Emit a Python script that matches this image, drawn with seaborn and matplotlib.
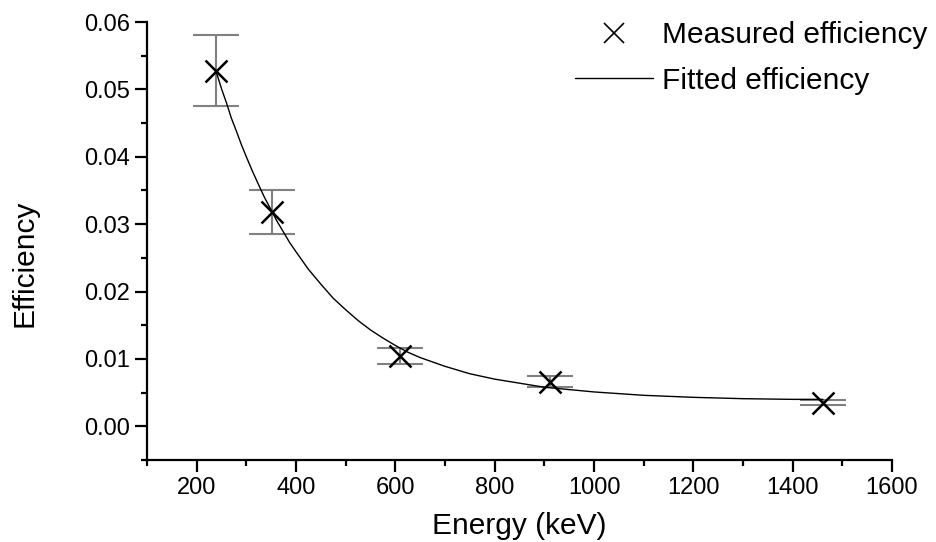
import matplotlib
matplotlib.use("Agg")
import matplotlib.pyplot as plt
from matplotlib.lines import Line2D
import seaborn as sns
import pandas as pd

# Measured efficiency points (energy in keV)
energy = [238.6, 351.9, 609.3, 911.2, 1460.8]
efficiency = [0.0528, 0.0318, 0.0104, 0.0066, 0.0035]
eff_err = [0.0053, 0.0032, 0.0012, 0.0008, 0.0004]

# Fitted efficiency curve
fit_energy = [238.6, 250, 260, 270, 280, 290, 300, 312, 325, 337, 350, 362,
              375, 387, 400, 425, 450, 475, 500, 525, 550, 575, 600, 625,
              650, 700, 750, 800, 900, 1000, 1100, 1200, 1300, 1400, 1460.8]
fit_eff = [0.0528, 0.0501, 0.0480, 0.0457, 0.0438, 0.0418, 0.0400, 0.0379,
           0.0358, 0.0339, 0.0321, 0.0304, 0.0288, 0.0273, 0.0259, 0.0233,
           0.0211, 0.0190, 0.0173, 0.0157, 0.0143, 0.0131, 0.0120, 0.0110,
           0.0102, 0.0089, 0.0078, 0.0070, 0.0058, 0.0051, 0.0046, 0.0043,
           0.0041, 0.0040, 0.0040]

x_ticks = [200, 400, 600, 800, 1000, 1200, 1400, 1600]
y_ticks = [0.00, 0.01, 0.02, 0.03, 0.04, 0.05, 0.06]

sns.set_style("ticks")
plt.rcParams["font.family"] = ["Liberation Sans", "DejaVu Sans"]
plt.rcParams["text.color"] = "black"
plt.rcParams["axes.labelcolor"] = "black"
plt.rcParams["xtick.color"] = "black"
plt.rcParams["ytick.color"] = "black"
plt.rcParams["xtick.labelcolor"] = "black"
plt.rcParams["ytick.labelcolor"] = "black"

meas = pd.DataFrame({"energy": energy, "efficiency": efficiency})
fit = pd.DataFrame({"energy": fit_energy, "efficiency": fit_eff})

fig = plt.figure(figsize=(9.36, 5.42), dpi=100)
ax = fig.add_axes([147/936, 1 - 460/542, 745/936, 438/542])

ax.errorbar(energy, efficiency, yerr=eff_err, fmt="none", ecolor="#808080",
            elinewidth=1.5, capsize=16.5, capthick=1.5, zorder=2)
sns.lineplot(data=fit, x="energy", y="efficiency", ax=ax, color="black",
             linewidth=1.0, zorder=3, legend=False)
sns.scatterplot(data=meas, x="energy", y="efficiency", ax=ax, marker="x",
                s=250, linewidth=1.8, color="black", zorder=4, legend=False)

ax.set_xlim(100, 1600)
ax.set_ylim(-0.005, 0.06)
ax.set_xticks(x_ticks)
ax.set_xticks([100 + 200 * i for i in range(8)], minor=True)
ax.set_yticks(y_ticks)
ax.set_yticks([-0.005 + 0.01 * i for i in range(7)], minor=True)
ax.set_yticklabels([f"{v:.2f}" for v in y_ticks])
ax.set_xticklabels([str(v) for v in x_ticks])

for s in ["top", "right"]:
    ax.spines[s].set_visible(False)
for s in ["left", "bottom"]:
    ax.spines[s].set_linewidth(1.6)
    ax.spines[s].set_color("black")

ax.tick_params(axis="both", which="major", direction="out", length=8.5,
               width=1.6, labelsize=17, pad=4, color="black",
               labelcolor="black")
ax.tick_params(axis="both", which="minor", direction="out", length=4,
               width=1.6, color="black")

ax.set_xlabel("Energy (keV)", fontsize=21.5, labelpad=9, color="black")
ax.set_ylabel("Efficiency", fontsize=21.5, color="black")
ax.yaxis.set_label_coords(-0.146, 0.45)

handles = [
    Line2D([], [], marker="x", linestyle="none", color="black",
           markersize=14, markeredgewidth=1.2),
    Line2D([], [], color="black", linewidth=1.0),
]
leg = ax.legend(handles, ["Measured efficiency", "Fitted efficiency"],
                loc="upper left", bbox_to_anchor=(575/936, 1 - 21/542),
                bbox_transform=fig.transFigure, frameon=False, fontsize=21.5,
                handlelength=2.6, handletextpad=0.3, labelspacing=0.6,
                borderpad=0, borderaxespad=0)
for t in leg.get_texts():
    t.set_color("black")

fig.savefig("out.png", dpi=100)
